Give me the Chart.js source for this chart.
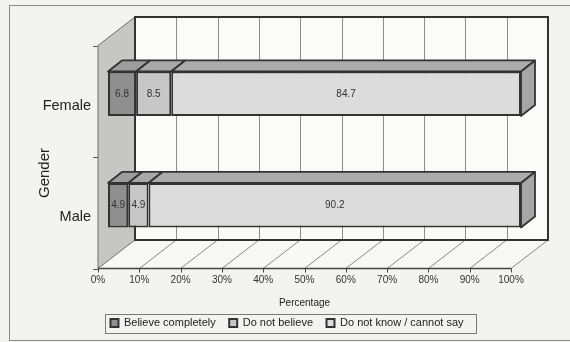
<!DOCTYPE html>
<html>
<head>
<meta charset="utf-8">
<script src="https://cdn.jsdelivr.net/npm/chart.js@4.4.0/dist/chart.umd.min.js"></script>
<style>
  html, body { margin: 0; padding: 0; background: #f3f3f1; }
  #wrap { width: 570px; height: 342px; }
</style>
</head>
<body>
<div id="wrap"><canvas id="c" width="570" height="342"></canvas></div>
<script>
// Survey answers by gender (percent of respondents)
const genders = ['Female', 'Male'];
const seriesNames = ['Believe completely', 'Do not believe', 'Do not know / cannot say'];
const believeCompletely = [6.8, 4.9];
const doNotBelieve = [8.5, 4.9];
const doNotKnow = [84.7, 90.2];
const percentTicks = [0, 10, 20, 30, 40, 50, 60, 70, 80, 90, 100];

// Styling
const FONT = "'Liberation Sans', Arial, sans-serif";
const frontColors = ['#8f8f8f', '#c7c7c7', '#dcdcdc'];
const topColors = ['#9d9d9d', '#a9a9a9', '#acacac'];
const endColor = '#a6a6a6';
const EDGE = '#333333';

// Pseudo-3D geometry: offsets of the front plane, back wall and bar depth
// relative to the plane the bars' front faces sit in.
const DEPTH = {
  front: { dx: -10, dy: 7.5 },
  back: { dx: 27, dy: -21 },
  bar: { dx: 14, dy: -11 }
};

function poly(ctx, pts, fill, stroke, lw) {
  ctx.beginPath();
  ctx.moveTo(pts[0][0], pts[0][1]);
  for (let i = 1; i < pts.length; i++) ctx.lineTo(pts[i][0], pts[i][1]);
  ctx.closePath();
  if (fill) { ctx.fillStyle = fill; ctx.fill(); }
  if (stroke) { ctx.strokeStyle = stroke; ctx.lineWidth = lw || 1; ctx.stroke(); }
}

const box3d = {
  id: 'box3d',
  beforeDraw(chart) {
    const { ctx, width, height } = chart;
    ctx.save();
    ctx.fillStyle = '#f3f3f1';
    ctx.fillRect(0, 0, width, height);
    ctx.strokeStyle = '#8a8a8a';
    ctx.lineWidth = 1;
    ctx.strokeRect(9.5, 5.5, width + 20, 335);
    ctx.restore();
  },
  beforeDatasetsDraw(chart) {
    const { ctx, chartArea: a, scales: { x, y } } = chart;
    const f = DEPTH.front, b = DEPTH.back;
    const fl = a.left + f.dx, fr = a.right + f.dx, ft = a.top + f.dy, fb = a.bottom + f.dy;
    const bl = a.left + b.dx, br = a.right + b.dx, bt = a.top + b.dy, bb = a.bottom + b.dy;
    ctx.save();

    // back wall
    ctx.fillStyle = '#fbfbfa';
    ctx.fillRect(bl, bt, br - bl, bb - bt);
    ctx.strokeStyle = '#8e8e8e';
    ctx.lineWidth = 1;
    percentTicks.forEach(v => {
      if (v === 0 || v === 100) return;
      const px = Math.round(x.getPixelForValue(v) + b.dx) + 0.5;
      ctx.beginPath(); ctx.moveTo(px, bt); ctx.lineTo(px, bb); ctx.stroke();
    });

    // side wall
    poly(ctx, [[fl, ft], [bl, bt], [bl, bb], [fl, fb]], '#c6c6c4', '#6a6a6a', 1);

    // floor
    poly(ctx, [[fl, fb], [fr, fb], [br, bb], [bl, bb]], '#f8f8f7', null);
    ctx.strokeStyle = '#7a7a7a';
    ctx.lineWidth = 0.9;
    percentTicks.forEach(v => {
      const px = x.getPixelForValue(v) + f.dx;
      ctx.beginPath(); ctx.moveTo(px, fb); ctx.lineTo(px + b.dx - f.dx, bb); ctx.stroke();
    });

    // back wall frame
    ctx.strokeStyle = EDGE;
    ctx.lineWidth = 2;
    ctx.strokeRect(bl, bt, br - bl, bb - bt);

    // front edge of floor and ticks
    ctx.strokeStyle = '#444';
    ctx.lineWidth = 1.5;
    ctx.beginPath(); ctx.moveTo(fl, fb); ctx.lineTo(fr, fb); ctx.stroke();
    ctx.lineWidth = 1;
    percentTicks.forEach(v => {
      const px = Math.round(x.getPixelForValue(v) + f.dx) + 0.5;
      ctx.beginPath(); ctx.moveTo(px, fb); ctx.lineTo(px, fb + 4); ctx.stroke();
    });

    // category ticks on the side wall
    const yTicks = [a.top, (y.getPixelForValue(0) + y.getPixelForValue(1)) / 2, a.bottom];
    ctx.strokeStyle = '#555';
    yTicks.forEach(py => {
      const yy = Math.round(py + f.dy) + 0.5;
      ctx.beginPath(); ctx.moveTo(fl - 5, yy); ctx.lineTo(fl, yy); ctx.stroke();
    });
    ctx.restore();
  },
  afterDatasetsDraw(chart) {
    const { ctx } = chart;
    const d = DEPTH.bar;
    const nSets = chart.data.datasets.length;
    ctx.save();
    ctx.lineJoin = 'round';
    chart.data.datasets.forEach((ds, i) => {
      const meta = chart.getDatasetMeta(i);
      meta.data.forEach((el, j) => {
        const p = el.getProps(['x', 'y', 'base', 'height'], true);
        const x0 = Math.min(p.x, p.base), x1 = Math.max(p.x, p.base);
        const top = p.y - p.height / 2, bottom = p.y + p.height / 2;
        // top face
        poly(ctx, [[x0, top], [x1, top], [x1 + d.dx, top + d.dy], [x0 + d.dx, top + d.dy]],
          topColors[i], EDGE, 1.8);
        // end face of the last segment
        if (i === nSets - 1) {
          poly(ctx, [[x1, top], [x1 + d.dx, top + d.dy], [x1 + d.dx, bottom + d.dy], [x1, bottom]],
            endColor, EDGE, 1.8);
        }
        // value label
        ctx.fillStyle = '#333';
        ctx.font = '10px ' + FONT;
        ctx.textAlign = 'center';
        ctx.textBaseline = 'middle';
        ctx.fillText(String(ds.data[j]), (x0 + x1) / 2, p.y);
      });
    });
    ctx.restore();
  },
  afterDraw(chart) {
    const { ctx, chartArea: a, legend } = chart;
    const f = DEPTH.front;
    ctx.save();
    // axis titles, placed on the front plane
    ctx.fillStyle = '#222';
    ctx.textAlign = 'center';
    ctx.textBaseline = 'middle';
    ctx.font = '10px ' + FONT;
    ctx.fillText('Percentage', (a.left + a.right) / 2 + f.dx, 303);
    ctx.font = '15px ' + FONT;
    ctx.translate(45, (a.top + a.bottom) / 2 + f.dy + 16);
    ctx.rotate(-Math.PI / 2);
    ctx.fillText('Gender', 0, 0);
    ctx.restore();

    // legend frame
    const hb = legend.legendHitBoxes;
    if (hb && hb.length) {
      const last = hb[hb.length - 1];
      const lx = hb[0].left - 5, rx = last.left + last.width + 13;
      const ty = hb[0].top - 4, by = hb[0].top + hb[0].height + 4;
      ctx.save();
      ctx.strokeStyle = '#7a7a7a';
      ctx.lineWidth = 1;
      ctx.strokeRect(Math.round(lx) + 0.5, Math.round(ty) + 0.5, Math.round(rx - lx), Math.round(by - ty));
      ctx.restore();
    }
  }
};

Chart.defaults.font.family = FONT;
Chart.defaults.color = '#222';

const seriesData = [believeCompletely, doNotBelieve, doNotKnow];

new Chart(document.getElementById('c'), {
  type: 'bar',
  data: {
    labels: genders,
    datasets: seriesNames.map((name, i) => ({
      label: name,
      data: seriesData[i],
      backgroundColor: frontColors[i],
      borderColor: EDGE,
      borderWidth: 2,
      borderSkipped: false,
      barPercentage: 0.4,
      categoryPercentage: 1
    }))
  },
  options: {
    indexAxis: 'y',
    responsive: false,
    animation: false,
    devicePixelRatio: 1,
    layout: { padding: { top: 38, right: 0, bottom: 3.5, left: 4 } },
    scales: {
      x: {
        stacked: true,
        min: 0,
        max: 100,
        afterFit: s => { s.height = 43; },
        afterBuildTicks: s => { s.ticks = percentTicks.map(v => ({ value: v })); },
        grid: { display: false, drawTicks: false },
        border: { display: false },
        ticks: {
          autoSkip: false,
          maxRotation: 0,
          padding: 13,
          labelOffset: DEPTH.front.dx,
          color: '#333',
          font: { size: 10 },
          callback: v => v + '%'
        }
      },
      y: {
        stacked: true,
        afterFit: s => { s.width = 104; },
        grid: { display: false, drawTicks: false },
        border: { display: false },
        ticks: {
          padding: 17,
          labelOffset: 12,
          color: '#222',
          font: { size: 14.5 }
        }
      },
      // empty right-hand axis that reserves room for the box's depth
      depth: {
        type: 'category',
        position: 'right',
        afterFit: s => { s.width = 49; },
        grid: { display: false, drawTicks: false },
        border: { display: false },
        ticks: { display: false }
      }
    },
    plugins: {
      legend: {
        position: 'bottom',
        labels: {
          boxWidth: 8,
          boxHeight: 8,
          padding: 13.5,
          color: '#222',
          font: { size: 11 }
        }
      },
      tooltip: { enabled: false }
    }
  },
  plugins: [box3d]
});
</script>
</body>
</html>
